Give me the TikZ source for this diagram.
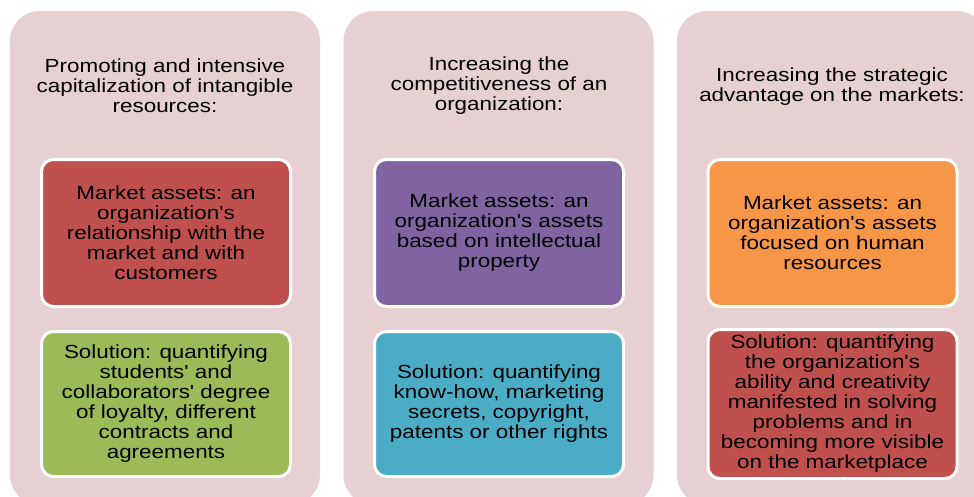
\documentclass[tikz,border=0pt]{standalone}
\usepackage{fontspec}
\newfontfamily\arialx{Liberation Sans}[FakeStretch=1.18]
\definecolor{panelpink}{HTML}{E7D0D1}
\definecolor{boxred}{HTML}{C0504D}
\definecolor{boxgreen}{HTML}{9BBB59}
\definecolor{boxpurple}{HTML}{8064A2}
\definecolor{boxcyan}{HTML}{4BACC6}
\definecolor{boxorange}{HTML}{F79646}
\tikzset{
  panel/.style={rectangle, rounded corners=30pt, fill=panelpink, draw=none,
    minimum width=310pt, minimum height=494pt, inner sep=0pt},
  heading/.style={align=center, font=\arialx\fontsize{19}{20}\selectfont, text=black, inner sep=0pt},
  itembox/.style={rectangle, rounded corners=12pt, draw=white, line width=3pt,
    minimum width=249pt, align=center, font=\arialx\fontsize{19}{20}\selectfont,
    text=black, inner sep=0pt},
}
\begin{document}
\begin{tikzpicture}[x=1pt,y=-1pt]
\useasboundingbox (0,0) rectangle (974,496);
\clip (0,0) rectangle (974,496);
% panels
\node[panel] (p1) at (165,258) {};
\node[panel] (p2) at (498.5,258) {};
\node[panel] (p3) at (832,258) {};
% headings
\node[heading] (h1) at (165,86) {Promoting and intensive\\capitalization of intangible\\resources:};
\node[heading] (h2) at (499,86) {Increasing the\\competitiveness of an\\organization:};
\node[heading] (h3) at (832,86.5) {Increasing the strategic\\advantage on the markets:};
% top boxes
\node[itembox, fill=boxred, minimum height=147pt] (a1) at (166,233)
  {Market assets: an\\organization's\\relationship with the\\market and with\\customers};
\node[itembox, fill=boxpurple, minimum height=147pt] (a2) at (499,233)
  {Market assets: an\\organization's assets\\based on intellectual\\property};
\node[itembox, fill=boxorange, minimum height=147pt] (a3) at (832.5,233)
  {Market assets: an\\organization's assets\\focused on human\\resources};
% bottom boxes
\node[itembox, fill=boxgreen, minimum height=145pt] (b1) at (166,404)
  {Solution: quantifying\\students' and\\collaborators' degree\\of loyalty, different\\contracts and\\agreements};
\node[itembox, fill=boxcyan, minimum height=145pt] (b2) at (499,404)
  {Solution: quantifying\\know-how, marketing\\secrets, copyright,\\patents or other rights};
\node[itembox, fill=boxred, minimum height=149pt] (b3) at (832.5,404)
  {Solution: quantifying\\the organization's\\ability and creativity\\manifested in solving\\problems and in\\becoming more visible\\on the marketplace};
\end{tikzpicture}
\end{document}
